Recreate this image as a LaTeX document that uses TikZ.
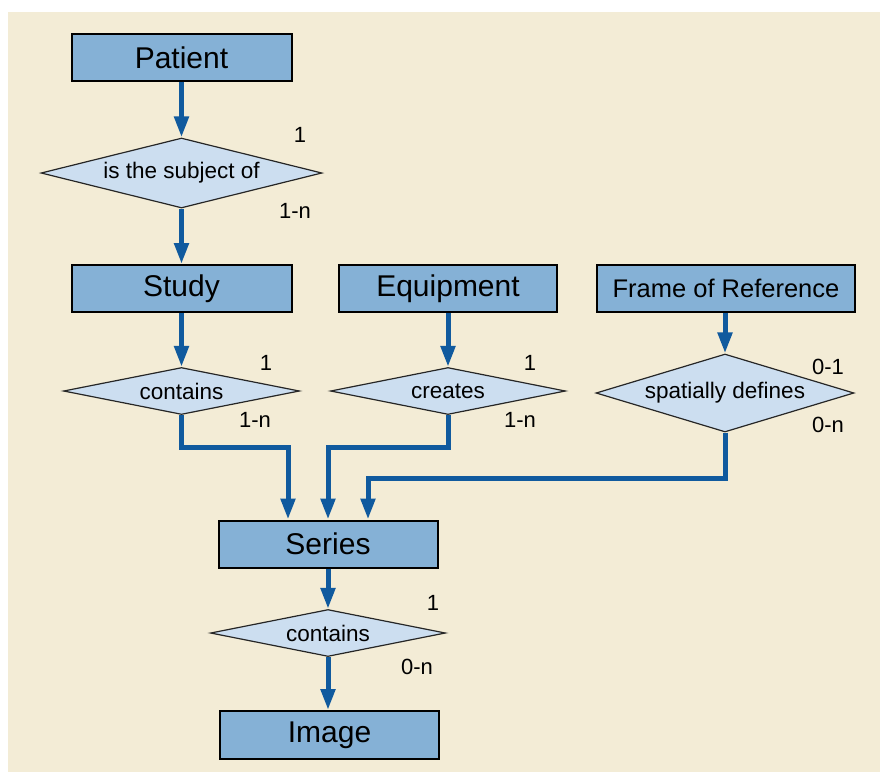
\documentclass[tikz,border=0pt]{standalone}
\usepackage{fontspec}
\setmainfont{Liberation Sans}
\usetikzlibrary{shapes.geometric,arrows.meta}
\definecolor{paper}{RGB}{243,236,214}
\definecolor{entity}{RGB}{133,177,214}
\definecolor{relation}{RGB}{204,222,240}
\definecolor{link}{RGB}{16,90,158}
\tikzset{
  entity/.style={draw=black, line width=2pt, fill=entity, rectangle,
    minimum height=47pt, inner sep=0pt, font=\fontsize{30}{36}\selectfont},
  relation/.style={draw=black!85, line width=1.2pt, fill=relation, diamond,
    inner sep=0pt, font=\fontsize{22.5}{27}\selectfont},
  card/.style={font=\fontsize{22}{26}\selectfont, inner sep=0pt},
  conn/.style={draw=link, line width=5pt, -{Triangle[width=14pt,length=21pt]}},
}
\begin{document}
\begin{tikzpicture}[x=1pt,y=-1pt]
  % canvas
  \fill[white] (0,0) rectangle (880,772);
  \fill[paper] (8,12) rectangle (880,772);
  \useasboundingbox (0,0) rectangle (880,772);

  % entities
  \node[entity, minimum width=220pt] (patient) at (181.5,57.5) {Patient};
  \node[entity, minimum width=220pt] (study) at (181.5,288.5) {Study};
  \node[entity, minimum width=218pt] (equip) at (448,288.5) {Equipment};
  \node[entity, minimum width=258pt, font=\fontsize{25.5}{30}\selectfont] (frame) at (726,288.5) {Frame of Reference};
  \node[entity, minimum width=219pt] (series) at (328,544) {Series};
  \node[entity, minimum width=219pt, minimum height=48pt] (image) at (329.5,735) {Image};

  % relationships
  \node[relation, aspect=4, minimum width=281pt, minimum height=70pt] (subj) at (181.5,173) {is the subject of};
  \node[relation, aspect=5, minimum width=236pt, minimum height=47pt] (cont1) at (181.5,391) {contains};
  \node[relation, aspect=5, minimum width=235pt, minimum height=47pt] (creates) at (448,391) {creates};
  \node[relation, aspect=3.3, minimum width=258pt, minimum height=78pt] (spat) at (725,393) {spatially defines};
  \node[relation, aspect=5, minimum width=235pt, minimum height=47pt] (cont2) at (328,633) {contains};

  % cardinalities
  \node[card] (s1) at (300,135) {1};
  \node[card] (sn) at (295,211) {1-n};
  \node[card] (c1a) at (266,363) {1};
  \node[card] (c1b) at (255,420) {1-n};
  \node[card] (cra) at (530,363) {1};
  \node[card] (crb) at (520,420) {1-n};
  \node[card] (spa) at (828,367) {0-1};
  \node[card] (spb) at (828,425) {0-n};
  \node[card] (c2a) at (433,603) {1};
  \node[card] (c2b) at (417,667) {0-n};

  % bend points of the merging links
  \coordinate (j1) at (288,447);
  \coordinate (j2) at (328,447);
  \coordinate (j3) at (368,478);

  % links
  \draw[conn] (patient.south) -- (subj.north);
  \draw[conn] (subj.south) -- (study.north);
  \draw[conn] (study.south) -- (cont1.north);
  \draw[conn] (equip.south) -- (creates.north);
  \draw[conn] (frame.south -| spat.north) -- (spat.north);
  \draw[conn] (cont1.south) |- (j1) -- (j1 |- series.north);
  \draw[conn] (creates.south) |- (j2) -- (j2 |- series.north);
  \draw[conn] (spat.south) |- (j3) -- (j3 |- series.north);
  \draw[conn] (series.south) -- (cont2.north);
  \draw[conn] (cont2.south) -- (cont2.south |- image.north);
\end{tikzpicture}
\end{document}
